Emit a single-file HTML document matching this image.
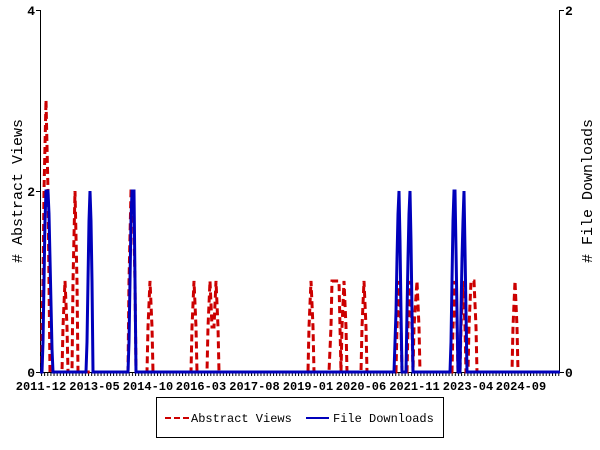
<!DOCTYPE html>
<html><head><style>body{margin:0;background:#fff}svg{display:block}</style></head><body>
<svg width="600" height="450" xmlns="http://www.w3.org/2000/svg" font-family="Liberation Mono, monospace" font-weight="bold">
<defs>
<pattern id="tk" x="41" y="0" width="3.135" height="6" patternUnits="userSpaceOnUse"><rect x="0" y="0" width="1" height="6" fill="#000"/></pattern>
</defs>
<rect width="600" height="450" fill="#fff"/>
<line x1="40.5" y1="10" x2="40.5" y2="373" stroke="#000" stroke-width="1"/>
<line x1="559.5" y1="10" x2="559.5" y2="373" stroke="#000" stroke-width="1"/>
<line x1="40" y1="372.5" x2="560" y2="372.5" stroke="#000" stroke-width="1"/>
<rect x="40" y="372" width="520" height="4" fill="url(#tk)"/>
<polyline fill="none" stroke="#cc0000" stroke-width="3" stroke-dasharray="7,4"
points="40,372 42,372 42,327 43,282 44,191 45,146 46,100 47,146 48,191 49,282 50,372 62,372 63,327 65,281 67,327 68,372 72,372 73,282 75,191 77,282 78,372 128,372 129,282 131,191 133,191 135,282 136,372 147,372 148,327 150,281 152,327 153,372 191,372 192,327 194,281 196,327 197,372 207,372 208,327 210,281 212,327 213,327 214,327 216,281 218,327 219,372 308,372 309,327 311,281 313,327 314,372 329,372 331,327 332,281 339,281 340,327 341,372 342,327 344,281 346,327 347,372 361,372 362,327 364,281 366,327 367,372 396,372 397,327 399,281 401,327 402,372 407,372 408,327 410,281 412,327 413,372 414,327 417,281 419,327 420,372 452,372 453,327 455,281 457,327 458,372 460,372 461,327 463,281 465,327 466,372 468,372 469,327 471,281 474,281 476,327 477,372 512,372 513,327 515,281 517,327 518,372 560,372"/>
<polyline fill="none" stroke="#0000bb" stroke-width="3"
points="40,372 42,372 43,342 44,281 45,221 46,191 48,191 49,214 50,259 51,304 52,349 53,372 86,372 87,342 88,281 89,221 90,191 91,221 92,281 93,372 128,372 129,342 130,281 131,221 132,191 134,191 135,281 136,372 394,372 395,342 396,312 397,259 398,214 399,191 400,241 401,312 402,372 406,372 407,312 408,259 409,214 410,191 411,241 412,312 413,372 450,372 451,342 452,281 453,221 454,191 455,191 456,250 457,312 458,372 460,372 461,312 462,259 463,221 464,191 465,250 466,312 467,372 560,372"/>
<g stroke="#000"><line x1="36" y1="10.5" x2="40" y2="10.5"/><line x1="36" y1="191.5" x2="40" y2="191.5"/><line x1="36" y1="372.5" x2="40" y2="372.5"/>
<line x1="560" y1="10.5" x2="564" y2="10.5"/><line x1="560" y1="372.5" x2="564" y2="372.5"/></g>
<g font-size="13" text-anchor="end"><text x="35" y="15">4</text><text x="35" y="196">2</text><text x="35" y="377">0</text></g>
<g font-size="13" text-anchor="start"><text x="565" y="15">2</text><text x="565" y="377">0</text></g>
<g font-size="12" text-anchor="middle">
<text x="41" y="390">2011-12</text><text x="94.5" y="390">2013-05</text><text x="148" y="390">2014-10</text><text x="201" y="390">2016-03</text><text x="254.5" y="390">2017-08</text><text x="308" y="390">2019-01</text><text x="361" y="390">2020-06</text><text x="414.5" y="390">2021-11</text><text x="468" y="390">2023-04</text><text x="521" y="390">2024-09</text>
</g>
<text transform="translate(22,191) rotate(-90)" font-size="15" text-anchor="middle" font-weight="normal"># Abstract Views</text>
<text transform="translate(592,191) rotate(-90)" font-size="15" text-anchor="middle" font-weight="normal"># File Downloads</text>
<rect x="156.5" y="397.5" width="287" height="40" fill="#fff" stroke="#000"/>
<line x1="165" y1="418" x2="190" y2="418" stroke="#cc0000" stroke-width="2" stroke-dasharray="6,3"/>
<text x="191" y="422" font-size="12" font-weight="normal">Abstract Views</text>
<line x1="306" y1="418" x2="329" y2="418" stroke="#0000bb" stroke-width="2"/>
<text x="333" y="422" font-size="12" font-weight="normal">File Downloads</text>
</svg>
</body></html>
